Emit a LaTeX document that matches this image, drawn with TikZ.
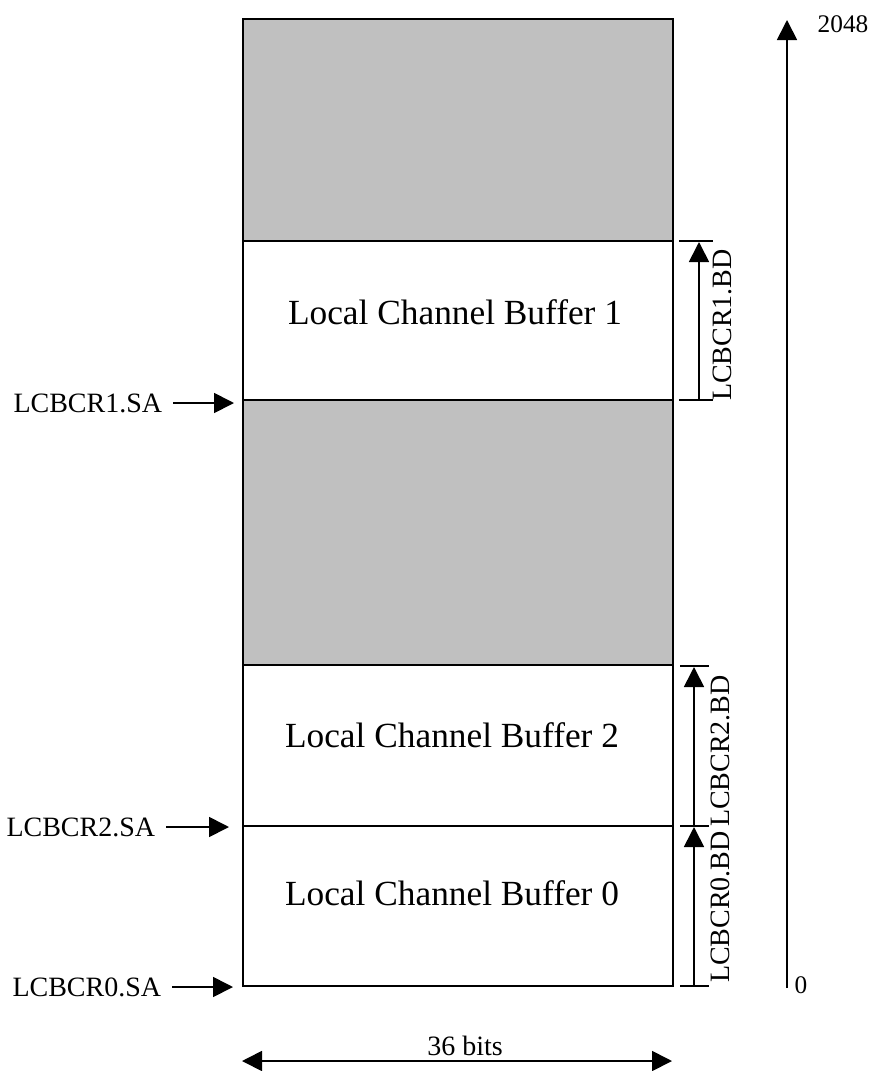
\documentclass[tikz,border=0pt]{standalone}
\usepackage{fontspec}
\setmainfont{Liberation Serif}
\usetikzlibrary{arrows.meta}
\definecolor{shade}{HTML}{C0C0C0}
\begin{document}
\begin{tikzpicture}[x=0.75pt,y=-0.75pt,
  line width=1.3pt,
  tip/.style={-{Triangle[length=15pt,width=15pt]}},
  twotip/.style={{Triangle[length=15pt,width=15pt]}-{Triangle[length=15pt,width=15pt]}},
  buflabel/.style={font=\fontsize{26.5}{30}\selectfont, inner sep=0pt},
  reglabel/.style={font=\fontsize{21}{24}\selectfont, inner sep=0pt},
  axlabel/.style={font=\fontsize{19}{22}\selectfont, inner sep=0pt},
  region/.style={draw=black, line width=1.3pt},
  gray region/.style={region, fill=shade}]
\useasboundingbox (0,0) rectangle (874,1071);

% memory column
\draw[gray region] (243,19) rectangle (673,241);
\draw[region, fill=white] (243,241) rectangle (673,400);
\draw[gray region] (243,400) rectangle (673,665);
\draw[region, fill=white] (243,665) rectangle (673,826);
\draw[region, fill=white] (243,826) rectangle (673,986);

\node[buflabel] (b1) at (455,312) {Local Channel Buffer 1};
\node[buflabel] (b2) at (452,735) {Local Channel Buffer 2};
\node[buflabel] (b0) at (452,893) {Local Channel Buffer 0};

% start address labels
\node[reglabel, anchor=east] (sa1) at (163,403) {LCBCR1.SA};
\node[reglabel, anchor=east] (sa2) at (156,827) {LCBCR2.SA};
\node[reglabel, anchor=east] (sa0) at (162,987) {LCBCR0.SA};
\coordinate (sa1s) at (173,403); \coordinate (sa1e) at (234,403);
\coordinate (sa2s) at (166,827); \coordinate (sa2e) at (229,827);
\coordinate (sa0s) at (172,987); \coordinate (sa0e) at (233,987);
\draw[tip] (sa1s) -- (sa1e);
\draw[tip] (sa2s) -- (sa2e);
\draw[tip] (sa0s) -- (sa0e);

% buffer depth dimensions
\coordinate (t1a) at (679,241); \coordinate (t1b) at (713,241);
\coordinate (t1c) at (679,400); \coordinate (t1d) at (713,400);
\draw (t1a) -- (t1b); \draw (t1c) -- (t1d);
\coordinate (d1s) at (699,400); \coordinate (d1e) at (699,242);
\draw[tip] (d1s) -- (d1e);
\node[reglabel, rotate=90] (bd1) at (722,325) {LCBCR1.BD};

\coordinate (t2a) at (680,666); \coordinate (t2b) at (709,666);
\coordinate (t2c) at (680,826); \coordinate (t2d) at (709,826);
\coordinate (t2e) at (680,986); \coordinate (t2f) at (709,986);
\draw (t2a) -- (t2b); \draw (t2c) -- (t2d); \draw (t2e) -- (t2f);
\coordinate (d2s) at (694,826); \coordinate (d2e) at (694,667);
\coordinate (d0s) at (694,986); \coordinate (d0e) at (694,827);
\draw[tip] (d2s) -- (d2e);
\draw[tip] (d0s) -- (d0e);
\node[reglabel, rotate=90] (bd2) at (720,751) {LCBCR2.BD};
\node[reglabel, rotate=90] (bd0) at (720,907) {LCBCR0.BD};

% address axis
\coordinate (axs) at (787,988); \coordinate (axe) at (787,20);
\draw[tip] (axs) -- (axe);
\node[axlabel] (top) at (843,24) {2048};
\node[axlabel] (zero) at (801,985) {0};

% width
\coordinate (ws) at (242,1061); \coordinate (we) at (672,1061);
\draw[twotip] (ws) -- (we);
\node[reglabel] (wl) at (465,1046) {36 bits};
\end{tikzpicture}
\end{document}
